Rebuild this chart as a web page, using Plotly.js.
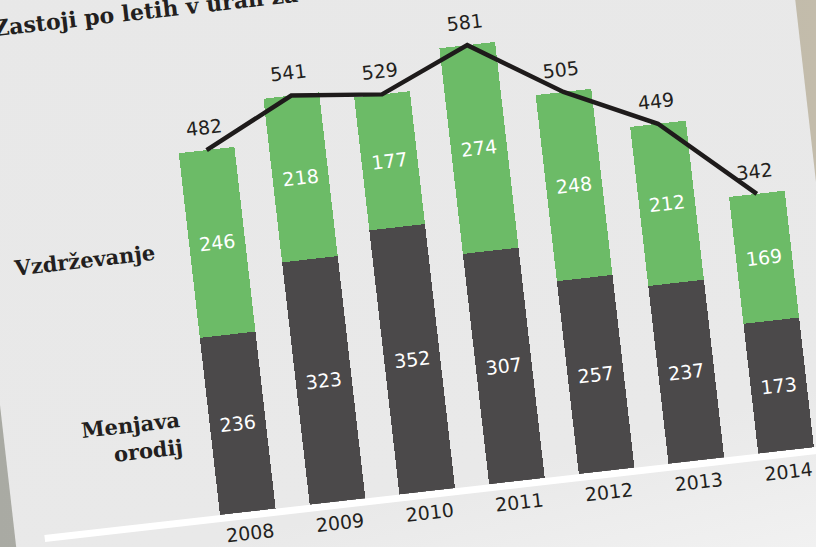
<!DOCTYPE html>
<html>
<head>
<meta charset="utf-8">
<script src="https://cdn.plot.ly/plotly-3.0.1.min.js"></script>
<style>
  html, body { margin:0; padding:0; width:816px; height:547px; overflow:hidden;
    background: linear-gradient(to right, #a9aaa3 0%, #b2b1a9 40%, #c3bcab 100%); }
  #wrap { position:absolute; left:-49.10px; top:-24.60px; width:836px; height:680px;
    transform-origin:0 0; transform:rotate(-6.5deg);
    background: linear-gradient(172deg, #e8e8e8 0%, #e9e9e9 78%, #f2f2f2 100%); }
  #chart { width:836px; height:680px; }
</style>
</head>
<body>
<div id="wrap"><div id="chart"></div></div>
<script>
const years = ['2008','2009','2010','2011','2012','2013','2014'];
const menjavaOrodij = [236, 323, 352, 307, 257, 237, 173];
const vzdrzevanje   = [246, 218, 177, 274, 248, 212, 169];
const totals        = [482, 541, 529, 581, 505, 449, 342];

const numFont = 'DejaVu Sans';
const serif = 'DejaVu Serif';

const traces = [
  {
    type:'bar', x: years, y: menjavaOrodij, name:'Menjava orodij',
    marker:{color:'#4b494a'},
    text: menjavaOrodij.map(String), textposition:'inside', insidetextanchor:'middle',
    textangle:0, constraintext:'none',
    textfont:{family:numFont, size:19, color:'#ffffff'},
    hoverinfo:'skip'
  },
  {
    type:'bar', x: years, y: vzdrzevanje, name:'Vzdrževanje',
    marker:{color:'#6cbb67'},
    text: vzdrzevanje.map(String), textposition:'inside', insidetextanchor:'middle',
    textangle:0, constraintext:'none',
    textfont:{family:numFont, size:19, color:'#ffffff'},
    hoverinfo:'skip'
  },
  {
    type:'scatter', mode:'lines', x: years, y: totals, name:'Skupaj',
    line:{color:'#1e1b1b', width:4.5},
    hoverinfo:'skip'
  }
];

// category index i on the category x axis
const annotations = years.map((yr, i) => ({
  x: i, y: totals[i], xref:'x', yref:'y', text: String(totals[i]),
  showarrow:false, yshift:23, xanchor:'center', yanchor:'middle',
  font:{family:numFont, size:19, color:'#231f20'}
}));
annotations.push({
  xref:'paper', yref:'paper', x:-0.1412, y:0.5465, xanchor:'center', yanchor:'middle',
  text:'Vzdrževanje', showarrow:false,
  font:{family:serif, size:21, color:'#231f20', weight:'bold'}
});
annotations.push({
  xref:'paper', yref:'paper', x:-0.016, y:0.1746, xanchor:'right', yanchor:'middle', align:'right',
  text:'Menjava<br>orodij', showarrow:false,
  font:{family:serif, size:21, color:'#231f20', weight:'bold'}
});

const layout = {
  width:836, height:680,
  margin:{l:189.2, r:15.05, t:76.25, b:113, pad:0},
  paper_bgcolor:'rgba(0,0,0,0)', plot_bgcolor:'rgba(0,0,0,0)',
  barmode:'stack', bargap:0.38, showlegend:false,
  title:{text:'Zastoji po letih v urah za', xref:'container', yref:'container',
    x:0.043, xanchor:'left', y:0.9147, yanchor:'middle',
    font:{family:serif, size:22, color:'#231f20', weight:'bold'}},
  xaxis:{type:'category', range:[-0.5, 6.5], showgrid:false, zeroline:false, showline:false,
    ticks:'', ticklabelstandoff:8, tickfont:{family:numFont, size:19, color:'#231f20'}},
  yaxis:{range:[0, 650], showticklabels:false, ticks:'', showgrid:false, zeroline:false,
    showline:false, fixedrange:true},
  shapes:[{type:'line', xref:'paper', yref:'paper', x0:-0.2526, x1:1.1, y0:-0.0071, y1:-0.0071,
    line:{color:'#ffffff', width:7}, layer:'below'}],
  annotations: annotations
};

Plotly.newPlot('chart', traces, layout, {displayModeBar:false, staticPlot:true});
</script>
</body>
</html>
